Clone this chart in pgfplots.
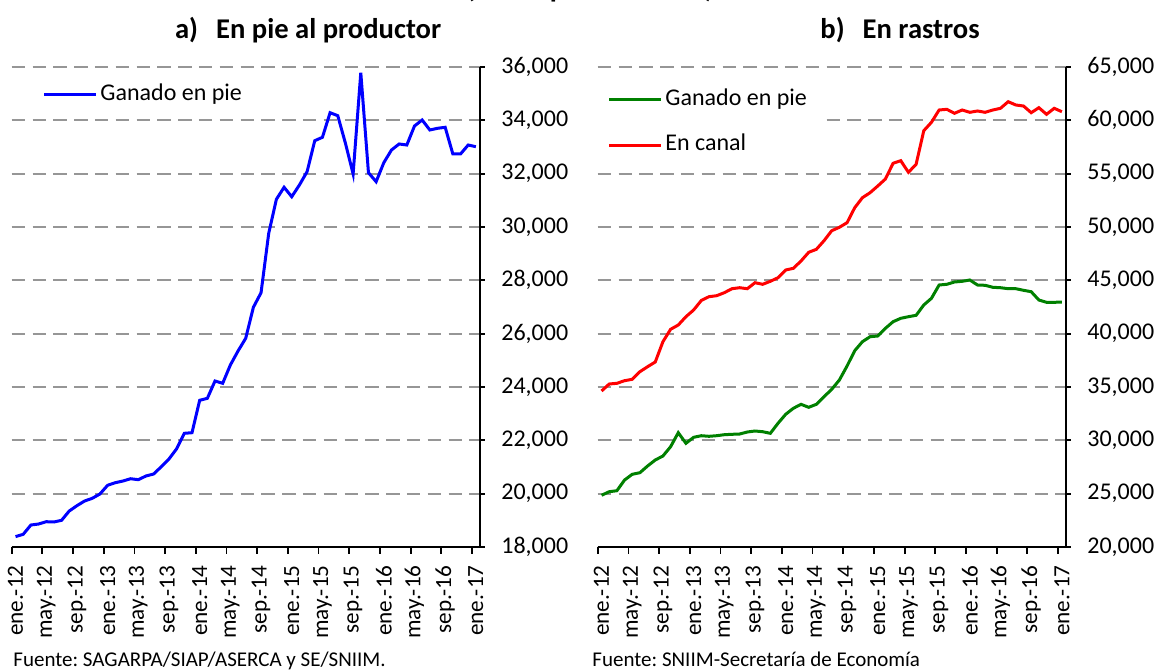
\documentclass[border=0pt]{standalone}
\usepackage{fontspec}
\setmainfont{Carlito}
\usepackage{pgfplots}
\usepackage{pgfplotstable}
\pgfplotsset{compat=1.18}
\frenchspacing

\definecolor{exgreen}{RGB}{0,128,0}
\definecolor{gridgray}{RGB}{150,150,150}

% precio en pie al productor (pesos/ton), ene-12 ... ene-17
\pgfplotstableread{
k v
0 18390
1 18476
2 18825
3 18862
4 18949
5 18938
6 19001
7 19350
8 19549
9 19725
10 19826
11 19988
12 20314
13 20411
14 20475
15 20561
16 20524
17 20663
18 20738
19 21011
20 21300
21 21686
22 22264
23 22286
24 23501
25 23576
26 24225
27 24139
28 24825
29 25350
30 25826
31 26989
32 27536
33 29764
34 31039
35 31489
36 31136
37 31575
38 32074
39 33236
40 33364
41 34286
42 34174
43 33139
44 31988
45 35786
46 32036
47 31699
48 32411
49 32888
50 33113
51 33075
52 33788
53 34013
54 33638
55 33701
56 33739
57 32738
58 32738
59 33075
60 33011
}\pie

% precios en rastros (pesos/ton)
\pgfplotstableread{
k ganado canal
0 24850 34625
1 25184 35281
2 25278 35347
3 26281 35591
4 26816 35722
5 26966 36434
6 27594 36903
7 28156 37344
8 28531 39247
9 29403 40409
10 30716 40813
11 29722 41591
12 30284 42219
13 30434 43109
14 30378 43466
15 30434 43559
16 30528 43841
17 30566 44216
18 30594 44309
19 30781 44216
20 30875 44778
21 30809 44628
22 30659 44909
23 31597 45247
24 32441 45969
25 33003 46128
26 33378 46813
27 33097 47628
28 33378 47909
29 34091 48716
30 34784 49653
31 35656 49972
32 36969 50403
33 38403 51809
34 39247 52747
35 39716 53216
36 39781 53844
37 40503 54500
38 41122 55972
39 41441 56216
40 41591 55128
41 41722 55878
42 42688 59028
43 43316 59816
44 44563 60969
45 44628 61034
46 44844 60659
47 44909 60969
48 45031 60753
49 44563 60875
50 44534 60753
51 44347 60969
52 44309 61128
53 44216 61747
54 44216 61438
55 44066 61344
56 43934 60716
57 43156 61184
58 42941 60566
59 42941 61128
60 42960 60809
}\rastros

\pgfplotsset{
  panel/.style={
    scale only axis, width=234pt, height=240pt,
    xmin=-0.5, xmax=60.5,
    axis x line*=bottom, axis y line*=right,
    axis line style={line width=0.9pt, black},
    tick align=outside,
    major tick length=2.5pt,
    minor tick length=3.3pt,
    xtick={0,4,8,12,16,20,24,28,32,36,40,44,48,52,56,60},
    xticklabels={ene.-12,may.-12,sep.-12,ene.-13,may.-13,sep.-13,ene.-14,may.-14,sep.-14,ene.-15,may.-15,sep.-15,ene.-16,may.-16,sep.-16,ene.-17},
    minor xtick={-0.5,3.5,7.5,11.5,15.5,19.5,23.5,27.5,31.5,35.5,39.5,43.5,47.5,51.5,55.5,59.5},
    major x tick style={draw=none},
    minor x tick style={line width=0.9pt, black},
    ytick style={line width=0.9pt, black},
    xticklabel style={rotate=90, anchor=east, font=\fontsize{11.6}{13}\selectfont},
    yticklabel style={font=\fontsize{12}{14}\selectfont},
    xticklabel shift=3.2pt,
    yticklabel shift=4.8pt,
    ymajorgrids,
    major grid style={line width=1pt, gridgray, dash pattern=on 6.7pt off 3.7pt},
    scaled y ticks=false,
    yticklabel style={/pgf/number format/.cd, fixed, 1000 sep={,}, assume math mode=true},
    legend cell align=left,
    legend image code/.code={\draw[#1] (0pt,0pt) -- (26pt,0pt);},
  }
}

\begin{document}
\begin{tikzpicture}
\useasboundingbox (0,0) rectangle (579.5pt,335pt);

\begin{axis}[panel, at={(5.85pt,61.5pt)}, anchor=south west,
  ymin=18000, ymax=36000,
  ytick={18000,20000,22000,24000,26000,28000,30000,32000,34000,36000},
  legend style={draw=none, fill=white, at={(0.0573,0.981)}, anchor=north west,
    inner xsep=2pt, inner ysep=2pt, font=\fontsize{12}{14}\selectfont,
    nodes={inner sep=1.25pt, text height=8.5pt, text depth=3pt}}]
\addplot[blue, line width=1.5pt] table[x=k, y=v] {\pie};
\addlegendentry{Ganado en pie}
\end{axis}

\begin{axis}[panel, at={(298.85pt,61.5pt)}, anchor=south west,
  ymin=20000, ymax=65000,
  ytick={20000,25000,30000,35000,40000,45000,50000,55000,60000,65000},
  legend style={draw=none, fill=white, at={(-0.0068,0.978)}, anchor=north west,
    inner xsep=6.5pt, inner ysep=4pt, row sep=8.75pt, font=\fontsize{12}{14}\selectfont,
    nodes={inner sep=1.25pt, text height=8.5pt, text depth=3pt}}]
\addplot[exgreen, line width=1.5pt] table[x=k, y=ganado] {\rastros};
\addlegendentry{Ganado en pie}
\addplot[red, line width=1.5pt] table[x=k, y=canal] {\rastros};
\addlegendentry{En canal}
\end{axis}

\node[anchor=base, inner sep=0pt, font=\bfseries\fontsize{14.5}{17}\selectfont] at (295pt,336pt) {(Pesos por tonelada)};
\node[anchor=base west, inner sep=0pt, font=\bfseries\fontsize{14.3}{17}\selectfont] at (87.35pt,315.5pt) {a)\hspace{9pt}En pie al productor};
\node[anchor=base west, inner sep=0pt, font=\bfseries\fontsize{14.3}{17}\selectfont] at (410pt,315.5pt) {b)\hspace{9pt}En rastros};
\node[anchor=base west, inner sep=0pt, font=\fontsize{10.5}{12}\selectfont] at (6.5pt,2pt) {Fuente: SAGARPA/SIAP/ASERCA y SE/SNIIM.};
\node[anchor=base west, inner sep=0pt, font=\fontsize{10.5}{12}\selectfont] at (296pt,2pt) {Fuente: SNIIM-Secretaría de Economía};
\end{tikzpicture}
\end{document}
